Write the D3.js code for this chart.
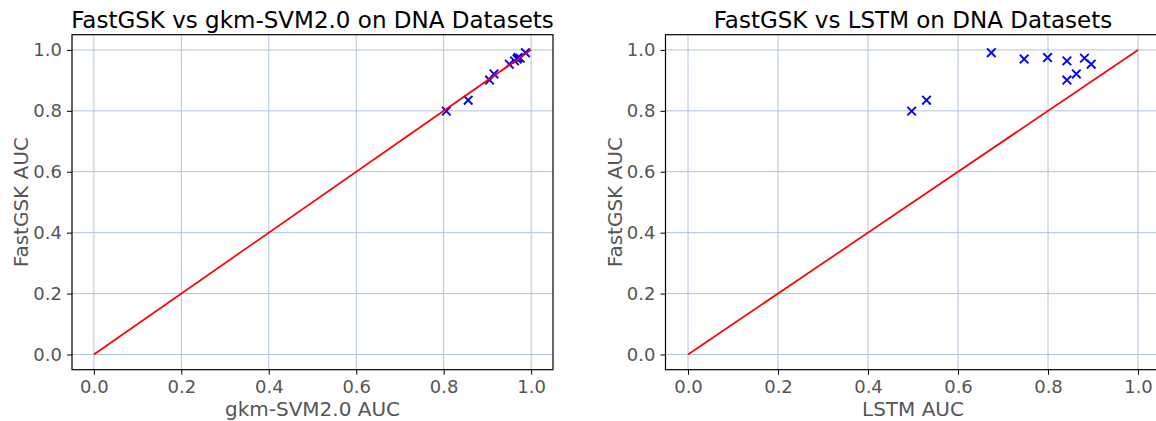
<!DOCTYPE html>
<html>
<head>
<meta charset="utf-8">
<script src="https://cdn.jsdelivr.net/npm/d3@7"></script>
<style>
  body { margin: 0; background: #fff; }
  svg { display: block; font-family: "DejaVu Sans", sans-serif; }
</style>
</head>
<body>
<svg id="chart" width="1156" height="421"></svg>
<script>
// Data: FastGSK AUC vs competitor AUC per DNA dataset
const fastgskAUC = [0.799, 0.835, 0.901, 0.921, 0.953, 0.964, 0.970, 0.973, 0.975, 0.991];
const gkmSvmAUC  = [0.806, 0.856, 0.905, 0.915, 0.950, 0.962, 0.968, 0.975, 0.970, 0.987];
const lstmAUC    = [0.497, 0.530, 0.842, 0.863, 0.896, 0.842, 0.747, 0.881, 0.799, 0.674];
const tickValues = [0.0, 0.2, 0.4, 0.6, 0.8, 1.0];
const diagonal   = [0, 1];

const panels = [
  { title: "FastGSK vs gkm-SVM2.0 on DNA Datasets", xlabel: "gkm-SVM2.0 AUC", xs: gkmSvmAUC, left: 72, right: 553 },
  { title: "FastGSK vs LSTM on DNA Datasets", xlabel: "LSTM AUC", xs: lstmAUC, left: 665.5, right: 1160.5 }
];
const plotTop = 34.7, plotBottom = 369.7;
const svg = d3.select("#chart");
const gridColor = "#b0c4de", tickColor = "#555555";

panels.forEach(p => {
  const x = d3.scaleLinear().domain([-0.05, 1.05]).range([p.left, p.right]);
  const y = d3.scaleLinear().domain([-0.05, 1.05]).range([plotBottom, plotTop]);
  const g = svg.append("g");

  // grid
  g.selectAll(".gx").data(tickValues).join("line")
    .attr("x1", d => x(d)).attr("x2", d => x(d)).attr("y1", plotTop).attr("y2", plotBottom)
    .attr("stroke", gridColor).attr("stroke-width", 1);
  g.selectAll(".gy").data(tickValues).join("line")
    .attr("y1", d => y(d)).attr("y2", d => y(d)).attr("x1", p.left).attr("x2", p.right)
    .attr("stroke", gridColor).attr("stroke-width", 1);

  // points (x markers)
  const pts = p.xs.map((v, i) => [v, fastgskAUC[i]]);
  const s = 4.3;
  const mk = g.selectAll(".pt").data(pts).join("g")
    .attr("transform", d => `translate(${x(d[0])},${y(d[1])})`);
  mk.append("path").attr("d", `M${-s},${-s}L${s},${s}M${-s},${s}L${s},${-s}`)
    .attr("stroke", "#0000ff").attr("stroke-width", 1.9).attr("fill", "none");

  // diagonal
  g.append("line")
    .attr("x1", x(diagonal[0])).attr("y1", y(diagonal[0]))
    .attr("x2", x(diagonal[1])).attr("y2", y(diagonal[1]))
    .attr("stroke", "#ff0000").attr("stroke-width", 1.7);

  // axes
  const xAxis = d3.axisBottom(x).tickValues(tickValues).tickFormat(d3.format(".1f")).tickSize(5).tickPadding(5);
  const yAxis = d3.axisLeft(y).tickValues(tickValues).tickFormat(d3.format(".1f")).tickSize(5).tickPadding(5);
  const gx = g.append("g").attr("transform", `translate(0,${plotBottom})`).call(xAxis);
  const gy = g.append("g").attr("transform", `translate(${p.left},0)`).call(yAxis);
  [gx, gy].forEach(a => {
    a.select(".domain").remove();
    a.selectAll(".tick line").attr("stroke", "#000").attr("stroke-width", 1);
    a.selectAll(".tick text").attr("fill", tickColor).style("font-size", "18px")
      .style("font-family", "DejaVu Sans");
  });
  gx.selectAll(".tick text").attr("dy", "0.72em");

  // frame
  g.append("rect").attr("x", p.left).attr("y", plotTop)
    .attr("width", p.right - p.left).attr("height", plotBottom - plotTop)
    .attr("fill", "none").attr("stroke", "#000").attr("stroke-width", 1.2);

  // labels
  g.append("text").attr("x", (p.left + p.right) / 2).attr("y", 28)
    .attr("text-anchor", "middle").attr("fill", "#000").style("font-size", "23px").text(p.title);
  g.append("text").attr("x", x(0.5)).attr("y", 416)
    .attr("text-anchor", "middle").attr("fill", tickColor).style("font-size", "20px").text(p.xlabel);
  g.append("text").attr("transform", `translate(${p.left - 44},${y(0.5)}) rotate(-90)`)
    .attr("text-anchor", "middle").attr("fill", tickColor).style("font-size", "20px").text("FastGSK AUC");
});
</script>
</body>
</html>
